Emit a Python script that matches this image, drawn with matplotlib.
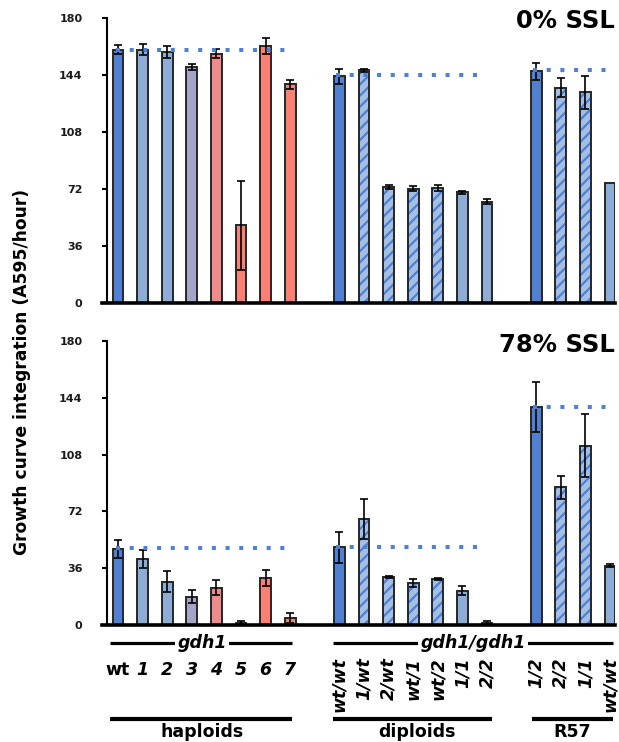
import numpy as np
import matplotlib.pyplot as plt
from matplotlib import transforms

# --- data ---
hap_labels = ['wt', '1', '2', '3', '4', '5', '6', '7']
dip_labels = ['wt/wt', '1/wt', '2/wt', 'wt/1', 'wt/2', '1/1', '2/2']
r57_labels = ['1/2', '2/2', '1/1', 'wt/wt']

# 0% SSL
hap_top = [160, 160, 158.5, 149, 157.5, 49, 162.3, 138]
hap_top_err = [3, 3.5, 4, 2, 2.8, 28, 5.3, 3]
dip_top = [143.2, 147, 73.3, 72.2, 72.6, 69.9, 64]
dip_top_err = [4.8, 1, 1.5, 1.5, 2, 1, 1.5]
r57_top = [146.3, 136, 133, 75.8]
r57_top_err = [5.4, 6.1, 10.6, 0]
ref_top = [159.6, 143.8, 147]

# 78% SSL
hap_bot = [48.3, 41.7, 27.5, 18, 23.7, 1.5, 30, 4.2]
hap_bot_err = [5.8, 5.8, 6.9, 4, 4.6, 1.2, 5, 3.2]
dip_bot = [49.3, 67.3, 30.3, 26.5, 29.2, 21.8, 1.5]
dip_bot_err = [9.8, 12.7, 0.6, 2.5, 0.6, 3, 1]
r57_bot = [138.3, 87.2, 113.7, 37.5]
r57_bot_err = [16, 7.4, 20, 1]
ref_bot = [48.7, 49.3, 138.3]

yticks = [0, 36, 72, 108, 144, 180]

# --- styles ---
BLUE = '#4f80d1'
LIGHT = '#8eadd6'
HATCH_BG = '#a3bfe6'
hap_colors = [BLUE, LIGHT, LIGHT, '#a4a4c6', '#ef8b8a', '#f98072', '#f98072', '#f98072']
dip_kind = ['solid', 'hatch', 'hatch', 'hatch', 'hatch', 'light', 'light']
r57_kind = ['solid', 'hatch', 'hatch', 'light']

hap_x = np.arange(8)
dip_x = np.arange(9, 16)
r57_x = np.arange(17, 21)

plt.rcParams['font.family'] = ['DejaVu Sans']
plt.rcParams['font.weight'] = 'bold'
plt.rcParams['hatch.linewidth'] = 1.6

W, H = 619, 742
fig = plt.figure(figsize=(W / 100, H / 100), dpi=100)


def fy(p):
    return 1 - p / H


x0px, step = 118, 24.6
left_px, right_px = 102, 615
ax_l = left_px / W
ax_w = (right_px - left_px) / W
ax1 = fig.add_axes([ax_l, fy(303), ax_w, 285 / H])
ax2 = fig.add_axes([ax_l, fy(625), ax_w, 284 / H])

BW = 0.44
EDGE = '#262626'


def draw(ax, hv, he, dv, de, rv, re, refs, title, ty):
    kind_col = {'solid': BLUE, 'light': LIGHT}
    # haploids
    ax.bar(hap_x, hv, BW, color=hap_colors, edgecolor=EDGE, linewidth=1.4, zorder=2)
    # diploids and R57
    for xs, vals, kinds in [(dip_x, dv, dip_kind), (r57_x, rv, r57_kind)]:
        for x, v, k in zip(xs, vals, kinds):
            if k == 'hatch':
                ax.bar(x, v, BW, color=HATCH_BG, edgecolor=BLUE, hatch='///',
                       linewidth=0, zorder=2)
                ax.bar(x, v, BW, fill=False, edgecolor=EDGE, linewidth=1.4, zorder=2)
            else:
                ax.bar(x, v, BW, color=kind_col[k], edgecolor=EDGE, linewidth=1.4, zorder=2)
    for xs, vals, errs in [(hap_x, hv, he), (dip_x, dv, de), (r57_x, rv, re)]:
        xs = np.asarray(xs)
        errs = np.asarray(errs)
        m = errs > 0
        ax.errorbar(xs[m], np.asarray(vals)[m], yerr=errs[m], fmt='none',
                    ecolor='black', elinewidth=1.2, capsize=2.8, capthick=1.2, zorder=3)
    # dotted reference lines
    spans = [(-0.1, 7.0), (8.85, 14.85), (16.85, 20.2)]
    for (a, b), r in zip(spans, refs):
        ax.plot([a, b], [r, r], color=BLUE, lw=2.9, linestyle=(0, (1, 2.4)),
                solid_capstyle='butt', dash_capstyle='butt', zorder=4, clip_on=False)

    ax.set_xlim((left_px - x0px) / step, (right_px - x0px) / step)
    ax.set_ylim(0, 180)
    ax.set_yticks(yticks)
    ax.spines['top'].set_visible(False)
    ax.spines['right'].set_visible(False)
    ax.spines['left'].set_position(('data', (107 - x0px) / step))
    ax.spines['left'].set_bounds(0, 180)
    ax.spines['left'].set_linewidth(1.5)
    ax.spines['bottom'].set_linewidth(2.6)
    ax.tick_params(axis='x', bottom=False, labelbottom=False)
    ax.tick_params(axis='y', length=3.6, width=1.5, pad=14, labelsize=8,
                   labelcolor='#1a1a1a')
    fig.text(right_px / W, fy(ty), title, ha='right', va='center', fontsize=17.5)


draw(ax1, hap_top, hap_top_err, dip_top, dip_top_err, r57_top, r57_top_err,
     ref_top, '0% SSL', 21)
draw(ax2, hap_bot, hap_bot_err, dip_bot, dip_bot_err, r57_bot, r57_bot_err,
     ref_bot, '78% SSL', 345)

fig.text(22 / W, fy(372), 'Growth curve integration (A595/hour)', rotation=90,
         ha='center', va='center', fontsize=12.3)

# --- annotations below the lower panel ---
tr = transforms.blended_transform_factory(ax2.transData, fig.transFigure)


def px2x(p):
    return (p - x0px) / step


def hline(a, b, ypx, lw):
    ax2.plot([px2x(a), px2x(b)], [fy(ypx), fy(ypx)], color='black', lw=lw,
             transform=tr, clip_on=False, solid_capstyle='butt')


hline(110, 292, 643, 2.3)
hline(333, 613, 643, 2.3)
ax2.text(px2x(202), fy(643), 'gdh1', transform=tr, ha='center', va='center',
         fontsize=12.5, style='italic',
         bbox=dict(facecolor='white', edgecolor='none', pad=1.5))
ax2.text(px2x(473), fy(643), 'gdh1/gdh1', transform=tr, ha='center', va='center',
         fontsize=12.5, style='italic',
         bbox=dict(facecolor='white', edgecolor='none', pad=1.5))

for x, lab in zip(hap_x, hap_labels):
    ax2.text(x, fy(670), lab, transform=tr, ha='center', va='center', fontsize=12.5,
             style='normal' if lab == 'wt' else 'italic')
for xs, labs in [(dip_x, dip_labels), (r57_x, r57_labels)]:
    for x, lab in zip(xs, labs):
        ax2.text(x, fy(657), lab, transform=tr, ha='center', va='top', rotation=90,
                 fontsize=12.5, style='italic')

hline(110, 292, 719, 3.0)
hline(333, 492, 719, 3.0)
hline(532, 613, 719, 3.0)
ax2.text(px2x(202), fy(732), 'haploids', transform=tr, ha='center', va='center',
         fontsize=12.5)
ax2.text(px2x(417), fy(732), 'diploids', transform=tr, ha='center', va='center',
         fontsize=12.5)
ax2.text(px2x(572), fy(732), 'R57', transform=tr, ha='center', va='center',
         fontsize=12.5)

fig.savefig('out.png', dpi=100)
